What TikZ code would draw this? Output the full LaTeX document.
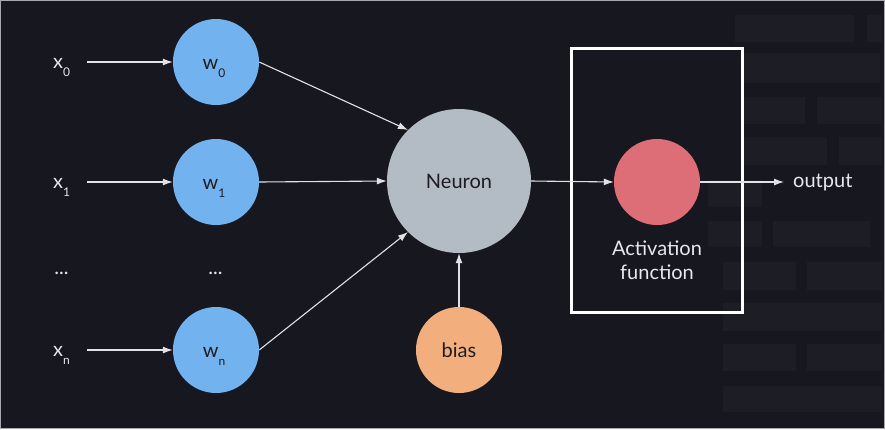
\documentclass[tikz,border=0pt]{standalone}
\usepackage{fontspec}
\setmainfont{Lato}
\usetikzlibrary{arrows.meta}
\definecolor{bgc}{HTML}{17171F}
\definecolor{brick}{HTML}{1D1D26}
\definecolor{wblue}{HTML}{72B3EF}
\definecolor{neur}{HTML}{B3BBC5}
\definecolor{actred}{HTML}{DD6E78}
\definecolor{biasor}{HTML}{F2AE7D}
\definecolor{txtlight}{HTML}{E8E8EC}
\definecolor{txtdark}{HTML}{1C1C22}
\definecolor{edgec}{HTML}{E2E2E6}
\definecolor{framec}{HTML}{A8A8AE}
\newcommand{\lowsub}[1]{\raisebox{-8pt}{\fontsize{12}{12}\selectfont #1}}
\begin{document}
\begin{tikzpicture}[x=1pt,y=-1pt,
  circ/.style={circle, inner sep=0pt, minimum size=#1, draw=none},
  wnode/.style={circ=86pt, fill=wblue},
  lbllight/.style={text=txtlight, inner sep=0pt, font=\fontsize{20}{24}\selectfont},
  lbldark/.style={text=txtdark, inner sep=0pt, font=\fontsize{20}{24}\selectfont},
  arr/.style={draw=edgec, line width=1.1pt, -{Latex[length=10pt,width=7pt]}},
  brk/.style={fill=brick}]
\useasboundingbox (0,0) rectangle (885,429);
\fill[bgc] (0,0) rectangle (885,429);
% background bricks
\fill[brk] (735,15) rectangle (854,42);
\fill[brk] (867,15) rectangle (882,42);
\fill[brk] (742,53) rectangle (880,83);
\fill[brk] (742,97) rectangle (805,124);
\fill[brk] (817,97) rectangle (882,124);
\fill[brk] (742,137) rectangle (827,165);
\fill[brk] (839,137) rectangle (882,165);
\fill[brk] (708,180) rectangle (762,207);
\fill[brk] (708,221) rectangle (762,247);
\fill[brk] (773,221) rectangle (870,247);
\fill[brk] (723,262) rectangle (796,290);
\fill[brk] (807,262) rectangle (882,290);
\fill[brk] (723,303) rectangle (882,331);
\fill[brk] (723,344) rectangle (796,371);
\fill[brk] (807,344) rectangle (882,371);
\fill[brk] (723,386) rectangle (882,412);
\draw[framec, line width=1.3pt] (0.65,0.65) rectangle (884.35,428.35);

% weight nodes
\node[wnode] (w0) at (216,62) {};
\node[wnode] (w1) at (216,182) {};
\node[wnode] (wn) at (216,350) {};
\node[lbldark, anchor=base] (w0t) at (214,69) {w\lowsub{0}};
\node[lbldark, anchor=base] (w1t) at (214,189) {w\lowsub{1}};
\node[lbldark, anchor=base] (wnt) at (214,357) {w\lowsub{n}};
\node[lbllight, anchor=base] (wdots) at (215.5,274) {...};

% inputs
\node[lbllight, anchor=base west] (x0) at (53,68) {x\lowsub{0}};
\node[lbllight, anchor=base west] (x1) at (53,188) {x\lowsub{1}};
\node[lbllight, anchor=base west] (xn) at (53,356) {x\lowsub{n}};
\node[lbllight, anchor=base] (xdots) at (61.5,274) {...};

% neuron, bias, activation
\node[circ=144pt, fill=neur, text=txtdark, font=\fontsize{20}{24}\selectfont] (neu) at (459,181) {Neuron};
\node[circ=86pt, fill=biasor, text=txtdark, font=\fontsize{20}{24}\selectfont] (bias) at (459,350) {bias};
\node[circ=86pt, fill=actred] (act) at (657,182) {};
\node[lbllight, anchor=north, align=center] (acttext) at (657,241) {Activation\\function};
\node[draw=white, line width=3pt, minimum width=171pt, minimum height=264pt, inner sep=0pt] (abox) at (657,180.5) {};
\node[lbllight, anchor=mid west] (outp) at (793,185) {output};

% connectors
\draw[arr, shorten <=17pt] (x0.east |- w0.west) -- (w0.west);
\draw[arr, shorten <=17pt] (x1.east |- w1.west) -- (w1.west);
\draw[arr, shorten <=17pt] (xn.east |- wn.west) -- (wn.west);
\draw[arr] (w0.east) -- (neu.135);
\draw[arr] (w1.east) -- (neu.west);
\draw[arr] (wn.east) -- (neu.225);
\draw[arr] (bias.north) -- (neu.south);
\draw[arr] (neu.east) -- (act.west);
\draw[arr, shorten >=9pt] (act.east) -- (act.east -| outp.west |- act.east);
\end{tikzpicture}
\end{document}
